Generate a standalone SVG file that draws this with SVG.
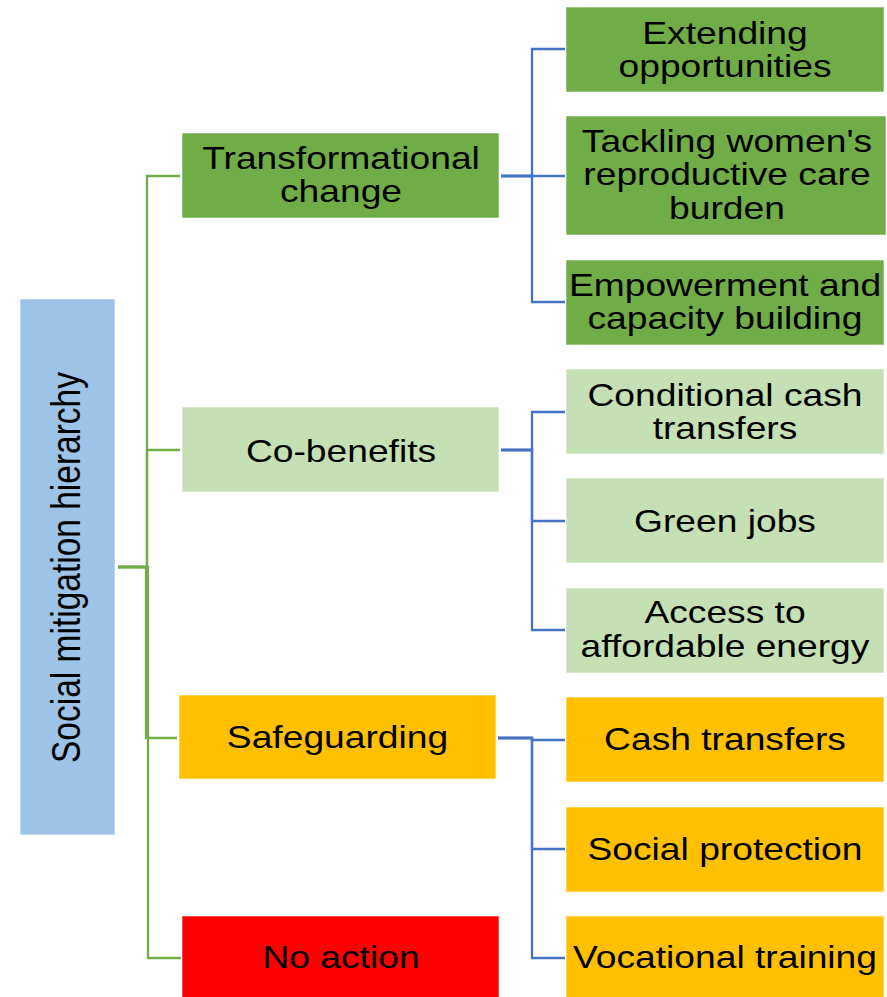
<svg xmlns="http://www.w3.org/2000/svg" width="887" height="997" viewBox="0 0 887 997">
<style>
.t{font-family:"Liberation Sans",Arial,sans-serif;font-size:31px;fill:#000;text-anchor:middle}
.box{stroke:#ffffff;stroke-opacity:0.6;stroke-width:1}
.g{fill:none;stroke:#70AD47;stroke-width:2.3}
.b{fill:none;stroke:#4472C4;stroke-width:2.3}
</style>
<rect width="887" height="997" fill="#ffffff"/>
<g id="connectors">
<path class="g" d="M118 567H147V176H180"/>
<path class="g" d="M118 567H147V450H180"/>
<path class="g" d="M118 567H146V738H177"/>
<path class="g" d="M118 567H148V958H181"/>
<path class="b" d="M501 176H532V49H565"/>
<path class="b" d="M501 176H532V176H565"/>
<path class="b" d="M501 176H532V302H565"/>
<path class="b" d="M501 450H532V412H565"/>
<path class="b" d="M501 450H532V521H565"/>
<path class="b" d="M501 450H532V630H565"/>
<path class="b" d="M498 738H532V740H565"/>
<path class="b" d="M498 738H532V849H565"/>
<path class="b" d="M498 738H532V958H565"/>
</g>
<g id="root">
<rect class="box" x="20" y="299" width="95" height="536" fill="#9DC3E6"/>
<text class="t" style="font-size:33.5px" transform="translate(80 567.5) scale(1.2 1) rotate(-90)" x="0" y="0">Social mitigation hierarchy</text>
</g>
<g id="transformational">
<rect class="box" x="182" y="133" width="317" height="85" fill="#70AD47"/>
<text class="t" transform="translate(341 0) scale(1.2 1)"><tspan x="0" y="169">Transformational</tspan><tspan x="0" y="202">change</tspan></text>
</g>
<g id="cobenefits">
<rect class="box" x="182" y="407" width="317" height="85" fill="#C5E0B4"/>
<text class="t" transform="translate(341 0) scale(1.2 1)" x="0" y="462">Co-benefits</text>
</g>
<g id="safeguarding">
<rect class="box" x="179" y="695" width="317" height="84" fill="#FFC000"/>
<text class="t" transform="translate(337.5 0) scale(1.2 1)" x="0" y="748">Safeguarding</text>
</g>
<g id="noaction">
<rect class="box" x="182" y="916" width="317" height="85" fill="#FF0000"/>
<text class="t" transform="translate(341 0) scale(1.2 1)" x="0" y="968">No action</text>
</g>
<g id="extending">
<rect class="box" x="566" y="7" width="318" height="85" fill="#70AD47"/>
<text class="t" transform="translate(725 0) scale(1.2 1)"><tspan x="0" y="44">Extending</tspan><tspan x="0" y="77">opportunities</tspan></text>
</g>
<g id="tackling">
<rect class="box" x="566" y="116" width="320" height="119" fill="#70AD47"/>
<text class="t" transform="translate(727 0) scale(1.2 1)"><tspan x="0" y="152">Tackling women's</tspan><tspan x="0" y="185">reproductive care</tspan><tspan x="0" y="219">burden</tspan></text>
</g>
<g id="empowerment">
<rect class="box" x="566" y="260" width="318" height="85" fill="#70AD47"/>
<text class="t" transform="translate(725 0) scale(1.2 1)"><tspan x="0" y="296">Empowerment and</tspan><tspan x="0" y="329">capacity building</tspan></text>
</g>
<g id="conditional">
<rect class="box" x="566" y="369" width="318" height="85" fill="#C5E0B4"/>
<text class="t" transform="translate(725 0) scale(1.2 1)"><tspan x="0" y="406">Conditional cash</tspan><tspan x="0" y="439">transfers</tspan></text>
</g>
<g id="greenjobs">
<rect class="box" x="566" y="478" width="318" height="85" fill="#C5E0B4"/>
<text class="t" transform="translate(725 0) scale(1.2 1)" x="0" y="532">Green jobs</text>
</g>
<g id="access">
<rect class="box" x="566" y="588" width="318" height="85" fill="#C5E0B4"/>
<text class="t" transform="translate(725 0) scale(1.2 1)"><tspan x="0" y="623">Access to</tspan><tspan x="0" y="657">affordable energy</tspan></text>
</g>
<g id="cashtransfers">
<rect class="box" x="566" y="697" width="318" height="85" fill="#FFC000"/>
<text class="t" transform="translate(725 0) scale(1.2 1)" x="0" y="750">Cash transfers</text>
</g>
<g id="socialprotection">
<rect class="box" x="566" y="807" width="318" height="85" fill="#FFC000"/>
<text class="t" transform="translate(725 0) scale(1.2 1)" x="0" y="860">Social protection</text>
</g>
<g id="vocational">
<rect class="box" x="566" y="916" width="318" height="85" fill="#FFC000"/>
<text class="t" transform="translate(725 0) scale(1.2 1)" x="0" y="968">Vocational training</text>
</g>
</svg>
